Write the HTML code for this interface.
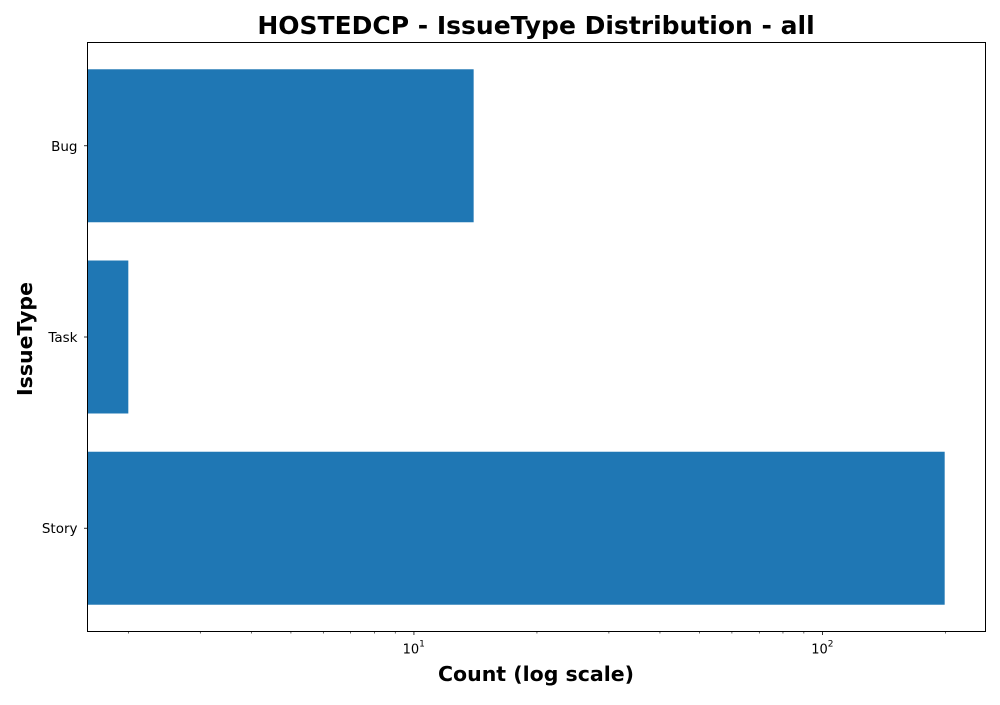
<!DOCTYPE html>
<html><head><meta charset="utf-8"><style>
body{margin:0;background:#fff;font-family:"Liberation Sans","DejaVu Sans",sans-serif;}
</style></head><body>
<svg id="chart" width="1000" height="700" xmlns="http://www.w3.org/2000/svg">
<rect width="1000" height="700" fill="#fff"/>
<text x="536" y="34" text-anchor="middle" font-size="25" font-weight="bold" font-family="DejaVu Sans, Liberation Sans, sans-serif">HOSTEDCP - IssueType Distribution - all</text>
<g id="bars"></g>
<g id="xticks"></g>
<g id="yticks"></g>
<rect x="87.5" y="42.5" width="898" height="589" fill="none" stroke="#000" stroke-width="1"/>
<text x="536" y="681" text-anchor="middle" font-size="20.5" font-weight="bold" font-family="DejaVu Sans, Liberation Sans, sans-serif">Count (log scale)</text>
<text transform="translate(32,339) rotate(-90)" text-anchor="middle" font-size="20.5" font-weight="bold" font-family="DejaVu Sans, Liberation Sans, sans-serif">IssueType</text>
</svg>
<script>
const categories = ["Bug","Task","Story"];
const counts = [14, 2, 199];
const majorTicks = [10, 100];
const majorLabels = ["10","10"];
const majorExps = ["1","2"];

const NS="http://www.w3.org/2000/svg";
const L=87.5,R=985.5,T=42.5,B=631.5;
const lmin=Math.log10(Math.min(...counts)), lmax=Math.log10(Math.max(...counts));
const m=(lmax-lmin)*0.05;
const x0=lmin-m, x1=lmax+m;
const xs=v=>L+(Math.log10(v)-x0)/(x1-x0)*(R-L);
const n=categories.length;
const y0=-0.4-0.05*(n-1+0.8), y1=n-1+0.4+0.05*(n-1+0.8);
const ys=i=>T+(i-y0)/(y1-y0)*(B-T);
function mk(tag,attrs,parent){const e=document.createElementNS(NS,tag);for(const k in attrs)e.setAttribute(k,attrs[k]);parent.appendChild(e);return e;}
const bars=document.getElementById('bars'),xt=document.getElementById('xticks'),yt=document.getElementById('yticks');
categories.forEach((c,i)=>{
  const top=ys(i-0.4),bot=ys(i+0.4);
  const r=mk('rect',{x:L,y:top,width:xs(counts[i])-L,height:bot-top,fill:'#1f77b4'},bars);
  
  
  const yc=ys(i);
  const tk=mk('line',{x1:L-3.5,x2:L,y1:yc,y2:yc,stroke:'#000','stroke-width':0.8},yt);
  
  
  const t=mk('text',{x:L-10,y:yc+5,'text-anchor':'end','font-size':13.5,'font-family':'DejaVu Sans, Liberation Sans, sans-serif'},yt);
  t.textContent=c;
  
  
});
for(let d=Math.floor(x0);d<=Math.ceil(x1);d++){
  for(let k=2;k<=9;k++){
    const v=k*Math.pow(10,d);const lv=Math.log10(v);
    if(lv<x0||lv>x1)continue;
    const ln=mk('line',{x1:xs(v),x2:xs(v),y1:B,y2:B+2,stroke:'#000','stroke-width':0.6},xt);
    
    
  }
}
majorTicks.forEach((v,i)=>{
  const x=xs(v);
  const ln=mk('line',{x1:x,x2:x,y1:B,y2:B+3.5,stroke:'#000','stroke-width':0.8},xt);
  
  
  const t=mk('text',{x:x-3,y:B+22,'text-anchor':'middle','font-size':13,'font-family':'DejaVu Sans, Liberation Sans, sans-serif'},xt);
  t.textContent=majorLabels[i];
  
  
  const e=mk('text',{x:x+8,y:B+15,'text-anchor':'middle','font-size':9,'font-family':'DejaVu Sans, Liberation Sans, sans-serif'},xt);
  e.textContent=majorExps[i];
  
  
});
</script>
</body></html>
